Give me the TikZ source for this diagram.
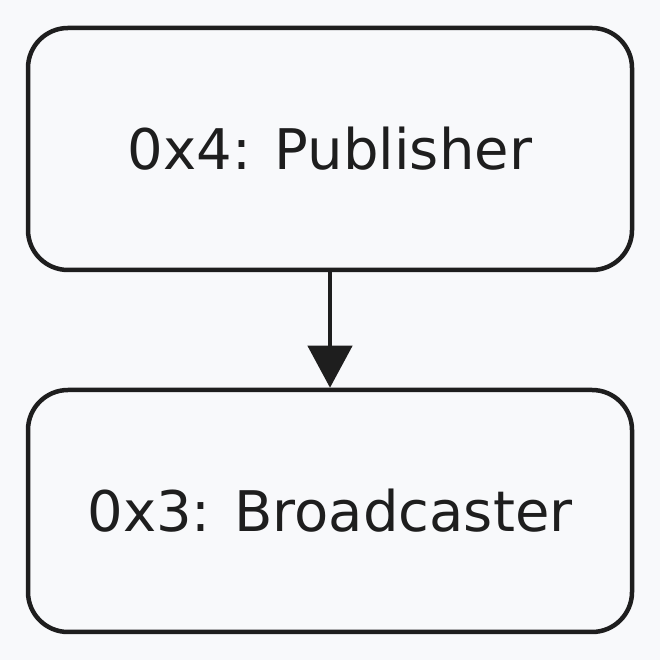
\documentclass[tikz,border=0pt]{standalone}
\usepackage{fontspec}
\setmainfont{DejaVu Sans}
\usetikzlibrary{arrows.meta}
\definecolor{bg}{HTML}{F8F9FB}
\definecolor{ink}{HTML}{1E1E1E}
\tikzset{
  boxnode/.style={draw=ink, line width=4.5pt, rounded corners=40pt, fill=none,
    minimum width=604pt, minimum height=242pt, inner sep=0pt, text=ink,
    font=\fontsize{56pt}{62pt}\selectfont},
  link/.style={draw=ink, line width=4.5pt, -{Triangle[length=42pt,width=44pt]}}
}
\begin{document}
\begin{tikzpicture}[x=1pt,y=1pt]
\fill[bg] (0,0) rectangle (660,660);
\useasboundingbox (0,0) rectangle (660,660);
\node[boxnode] (pub) at (330,511) {0x4: Publisher};
\node[boxnode] (bro) at (330,149) {0x3: Broadcaster};
\draw[link] (pub.south) -- (bro.north);
\end{tikzpicture}
\end{document}
